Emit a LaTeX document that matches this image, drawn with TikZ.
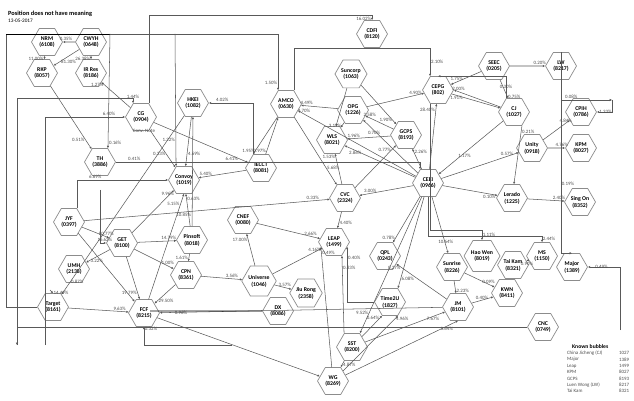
\documentclass[tikz,border=0pt]{standalone}
\usepackage{fontspec}
\setmainfont{Carlito}
\usepackage{tikz}
\usetikzlibrary{arrows.meta, positioning, shapes.geometric, calc}

\tikzset{
  hex/.style={draw=black!45, regular polygon, regular polygon sides=6,
    minimum size=0.62cm, inner sep=0pt, align=center,
    font=\fontsize{3.3}{3.9}\selectfont\bfseries},
  e/.style={draw=black!65, line width=0.3pt, -{Latex[length=1.3pt,width=1.3pt]}},
  lbl/.style={font=\fontsize{2.8}{3}\selectfont, inner sep=0.4pt, text=black!70},
}

\begin{document}
\begin{tikzpicture}[x=0.02cm, y=-0.02cm]
        \useasboundingbox (0,0) rectangle (634,401);
        % Titel
        \node[anchor=west, font=\fontsize{3.6}{4}\selectfont\bfseries] (title) at (2,14) {Position does not have meaning};
        \node[anchor=west, font=\fontsize{3}{3.5}\selectfont] (date) at (2,21) {13-05-2017};
        % Bubbles links
        \node[hex] (nrm) at (47,42) {NRM\\(6108)};
        \node[hex] (cwyh) at (91,42) {CWYH\\(0648)};
        \node[hex] (rkp) at (42,73) {RKP\\(8057)};
        \node[hex] (irres) at (91,73) {IR Res\\(8186)};
        \node[hex] (hkei) at (193,103) {HKEI\\(1082)};
        \node[hex] (cg) at (141,117) {CG\\(0904)};
        \node[hex] (th) at (100,162) {TH\\(3886)};
        \node[hex] (convoy) at (184,180) {Convoy\\(1019)};
        \node[hex] (jyf) at (69,222) {JYF\\(0397)};
        \node[hex] (get) at (122,243) {GET\\(8100)};
        \node[hex] (pinsoft) at (192,240) {Pinsoft\\(8018)};
        \node[hex] (umh) at (74,269) {UMH\\(2138)};
        \node[hex] (cpn) at (186,275) {CPN\\(8361)};
        \node[hex] (target) at (53,307) {Target\\(8161)};
        \node[hex] (fcf) at (144,313) {FCF\\(8215)};
        % Bubbles midden
        \node[hex] (cdfi) at (372,34) {CDFI\\(8120)};
        \node[hex] (suncorp) at (351,74) {Suncorp\\(1063)};
        \node[hex] (amco) at (286,104) {AMCO\\(0630)};
        \node[hex] (opg) at (353,110) {OPG\\(1226)};
        \node[hex] (wls) at (332,140) {WLS\\(8021)};
        \node[hex] (gcps) at (406,135) {GCPS\\(8193)};
        \node[hex] (iecct) at (261,168) {IECCT\\(8081)};
        \node[hex] (cvc) at (345,198) {CVC\\(2324)};
        \node[hex] (cnef) at (243,220) {CNEF\\(0080)};
        \node[hex] (leap) at (334,242) {LEAP\\(1499)};
        \node[hex] (qpl) at (385,256) {QPL\\(0243)};
        \node[hex] (universe) at (259,281) {Universe\\(1046)};
        \node[hex] (jiurong) at (306,293) {Jiu Rong\\(2358)};
        \node[hex] (dx) at (278,311) {DX\\(8086)};
        \node[hex] (timeu) at (390,302) {Time2U\\(1827)};
        \node[hex] (sst) at (352,347) {SST\\(8200)};
        \node[hex] (wg) at (333,381) {WG\\(8269)};
        % Bubbles rechts
        \node[hex] (cepg) at (438,90) {CEPG\\(802)};
        \node[hex] (seec) at (494,66) {SEEC\\(0205)};
        \node[hex] (lw) at (561,66) {LW\\(8217)};
        \node[hex] (cj) at (514,112) {CJ\\(1027)};
        \node[hex] (cpih) at (581,112) {CPIH\\(0786)};
        \node[hex] (unity) at (532,148) {Unity\\(0918)};
        \node[hex] (kpm) at (581,148) {KPM\\(8027)};
        \node[hex] (ceei) at (428,183) {CEEI\\(0966)};
        \node[hex] (lerado) at (512,198) {Lerado\\(1225)};
        \node[hex] (singon) at (580,202) {Sing On\\(8352)};
        \node[hex] (haowen) at (482,256) {Hao Wen\\(8019)};
        \node[hex] (ms) at (542,256) {MS\\(1150)};
        \node[hex] (taikam) at (513,265) {Tai Kam\\(8321)};
        \node[hex] (sunrise) at (452,267) {Sunrise\\(8226)};
        \node[hex] (major) at (572,267) {Major\\(1389)};
        \node[hex] (kwn) at (507,293) {KWN\\(8411)};
        \node[hex] (jm) at (458,307) {JM\\(8101)};
        \node[hex] (cnc) at (543,327) {CNC\\(0749)};
        % Notitie
        \node[lbl] (note) at (144,131) {Conv. Note};
        % Vrije eindpunten
        \coordinate (t1) at (110,34);
        \coordinate (t2) at (175,34);
        \coordinate (l1) at (17,345);
        \coordinate (l2) at (45,345);
        \coordinate (l3) at (100,190);
        \coordinate (l4) at (50,290);
        \coordinate (r1) at (620,330);
        \coordinate (r2) at (612,100);
        \coordinate (b1) at (232,345);
        \coordinate (d1) at (150,311);
        % Verbindingen links
        \draw[e] (cwyh) -- node[lbl,above,pos=.75]{0.35\%} (nrm);
        \draw[e] (nrm) -- node[lbl,left,pos=.75]{11.00\%} (rkp);
        \draw[e] (cwyh) -- node[lbl,right,pos=.75]{81.30\%} (rkp);
        \draw[e] (cwyh) -- node[lbl,left,pos=.75]{26.38\%} (irres);
        \draw[e] (rkp) -- node[lbl,left,pos=.85]{0.51\%} (th);
        \draw[e] (cg) -- node[lbl,left,pos=.9]{1.27\%} (irres);
        \draw[e] (cg.60) -- (cg.60 |- 0,15) -| node[lbl,left,pos=.9]{16.02\%} (cdfi.north);
        \draw[e] (target.west) -| (6,34) -| node[lbl,left,pos=.93]{1.50\%} (amco.120);
        \draw (6,34) -- (t1);
        \draw[e] (t1) -- node[lbl,right,pos=.95]{0.16\%} (th.60);
        \draw[e] (t2) -- node[lbl,left,pos=.8]{1.22\%} (convoy.120);
        \draw[e] (iecct.120) |- node[lbl,above,pos=.85]{4.02\%} (hkei.east);
        \draw[e] (l1) |- (cg.120 |- 0,98) -- node[lbl,above,pos=.2]{1.44\%} (cg.120);
        \draw[e] (l2) |- node[lbl,above,pos=.9]{6.40\%} (cg.west);
        \draw[e] (cg) -- node[lbl,left,pos=.9]{6.41\%} (iecct);
        \draw[e] (cg) -- node[lbl,left,pos=.65]{0.33\%} (convoy);
        \draw[e] (th.east) -| node[lbl,above,pos=.03]{0.41\%} (ceei.120);
        \draw[e] (jyf.60) |- node[lbl,above,pos=.6]{6.69\%} (convoy.west);
        \draw[e] (hkei) -- node[lbl,right,pos=.75]{4.69\%} (convoy);
        \draw[e] (hkei) -- node[lbl,right,pos=.93]{0.87\%} (target);
        \draw[e] (get) -- node[lbl,above,pos=.85]{9.96\%} (convoy);
        \draw[e] (fcf) -- node[lbl,left,pos=.9]{5.15\%} (convoy.south);
        \draw[e] (iecct) -- node[lbl,above,pos=.85]{5.40\%} (convoy);
        \draw[e] (pinsoft) -- node[lbl,right,pos=.85]{0.63\%} (convoy);
        \draw[e] (jyf) -- node[lbl,above,pos=.9]{80.77\%} (get);
        \draw[e] (l3) |- node[lbl,above,pos=.9]{16.62\%} (get.west);
        \draw[e] (get) -- node[lbl,above,pos=.8]{14.79\%} (pinsoft);
        \draw[e] (get) -- node[lbl,above,pos=.85]{1.00\%} (cpn);
        \draw[e] (get) -- node[lbl,left,pos=.85]{19.79\%} (fcf);
        \draw[e] (pinsoft) -- node[lbl,left,pos=.6]{1.61\%} (cpn);
        \draw[e] (cpn) -- node[lbl,right,pos=.85]{29.50\%} (fcf);
        \draw[e] (jyf) -- (fcf);
        \draw[e] (target) -- node[lbl,above,pos=.85]{9.63\%} (fcf);
        \draw[e] (get) -- node[lbl,right,pos=.85]{3.22\%} (umh);
        \draw[e] (l4) -- node[lbl,right,pos=.9]{14.49\%} (target.north);
        \draw[e] (jm) -- node[lbl,right,pos=.95]{0.96\%} (fcf);
        \draw[e] (b1) -| node[lbl,right,pos=.95]{0.32\%} (fcf.south);
        % Verbindingen midden
        \draw[e] (cpn) -- node[lbl,above,pos=.75]{3.56\%} (universe);
        \draw[e] (pinsoft) -- node[lbl,left,pos=.1]{10.85\%} (hkei);
        \draw[e] (universe) -- node[lbl,left,pos=.8]{17.00\%} (cnef);
        \draw[e] (universe) -- node[lbl,above,pos=.85]{4.16\%} (leap);
        \draw[e] (universe) -- node[lbl,above,pos=.6]{3.57\%} (jiurong);
        \draw[e] (cnef) -- node[lbl,above,pos=.85]{2.66\%} (leap);
        \draw[e] (jyf) -- node[lbl,above,pos=.93]{0.33\%} (cvc);
        \draw[e] (amco) -- node[lbl,right,pos=.75]{5.68\%} (cvc);
        \draw[e] (ceei) -- node[lbl,above,pos=.8]{3.00\%} (cvc);
        \draw[e] (cvc) -- node[lbl,right,pos=.7]{4.40\%} (leap);
        \draw[e] (wg) -- node[lbl,right,pos=.95]{0.49\%} (leap.200);
        \draw[e] (sst.120) -- node[lbl,right,pos=.85]{0.83\%} (leap.300);
        \draw[e] (timeu.west) -| node[lbl,right,pos=.9]{0.40\%} (leap.340);
        \draw[e] (ceei) -- node[lbl,left,pos=.85]{9.52\%} (sst.60);
        \draw[e] (sst) -- node[lbl,right,pos=.6]{4.87\%} (wg);
        \draw[e] (sst) -- node[lbl,left,pos=.9]{0.64\%} (timeu.240);
        \draw[e] (wg) -- node[lbl,right,pos=.95]{4.96\%} (timeu.300);
        \draw[e] (ceei) -- node[lbl,right,pos=.9]{6.08\%} (timeu.60);
        \draw[e] (ceei) -- node[lbl,left,pos=.9]{0.78\%} (qpl);
        \draw[e] (jm) -- node[lbl,left,pos=.9]{0.27\%} (qpl);
        \draw[e] (fcf) -- (wg);
        \draw (dx) -- (d1);
        \draw[e] (amco) -- node[lbl,left,pos=.9]{1.95\%} (iecct.120);
        \draw[e] (iecct) -- node[lbl,left,pos=.1]{0.97\%} (amco.240);
        \draw[e] (ceei) -- node[lbl,above,pos=.95]{4.70\%} (amco);
        \draw[e] (opg) -- node[lbl,above,pos=.85]{4.49\%} (amco);
        \draw[e] (suncorp) -- (wls);
        \draw[e] (opg) -- node[lbl,left,pos=.6]{3.19\%} (wls);
        \draw[e] (cvc) -- node[lbl,left,pos=.9]{1.53\%} (wls);
        \draw[e] (gcps) -- node[lbl,above,pos=.85]{1.96\%} (wls);
        \draw[e] (ceei) -- node[lbl,below,pos=.85]{2.86\%} (wls);
        \draw[e] (gcps) -- node[lbl,above,pos=.85]{2.58\%} (opg);
        \draw[e] (ceei) -- node[lbl,below,pos=.8]{0.70\%} (opg);
        \draw[e] (suncorp) -- node[lbl,left,pos=.9]{1.90\%} (gcps);
        \draw[e] (cvc) -- node[lbl,left,pos=.9]{0.77\%} (gcps);
        \draw[e] (ceei) -- node[lbl,right,pos=.85]{2.26\%} (gcps);
        \draw[e] (opg) -- node[lbl,above,pos=.85]{4.90\%} (cepg);
        \draw[e] (ceei) -- node[lbl,left,pos=.9]{28.40\%} (cepg);
        % Verbindingen rechts
        \draw[e] (seec) -- node[lbl,above,pos=.8]{1.75\%} (cepg);
        \draw[e] (amco.60) |- (cepg.120 |- 0,48) -- node[lbl,right,pos=.5]{2.10\%} (cepg.120);
        \draw[e] (seec) -- node[lbl,right,pos=.9]{0.75\%} (cj);
        \draw[e] (cj) -- node[lbl,above,pos=.9]{2.00\%} (cepg.east);
        \draw[e] (cepg) -- node[lbl,below,pos=.1]{1.91\%} (cj);
        \draw[e] (seec) -- node[lbl,above,pos=.85]{0.20\%} (lw);
        \draw[e] (lw.north) |- node[lbl,above,pos=.6]{0.08\%} (r2);
        \draw[e] (cj.120) |- node[lbl,above,pos=.2]{0.30\%} (cepg.north);
        \draw[e] (cj) -- node[lbl,below,pos=.6]{1.17\%} (ceei);
        \draw[e] (unity) -- node[lbl,above,pos=.85]{4.84\%} (cpih);
        \draw[e] (unity) -- node[lbl,above,pos=.8]{4.76\%} (kpm);
        \draw[e] (r2) |- node[lbl,right,pos=.95]{1.33\%} (cpih.east);
        \draw[e] (ceei) -- node[lbl,above,pos=.85]{0.57\%} (unity);
        \draw[e] (ceei) -- node[lbl,below,pos=.85]{0.10\%} (lerado);
        \draw[e] (cj.300) -- node[lbl,right,pos=.1]{0.21\%} (lerado);
        \draw[e] (lerado) -- node[lbl,above,pos=.85]{2.40\%} (singon);
        \draw[e] (ceei) -- node[lbl,above,pos=.85]{10.64\%} (sunrise);
        \draw[e] (cepg.240) |- (haowen.north |- 0,230) -- node[lbl,right,pos=.5]{1.11\%} (haowen.north);
        \draw[e] (ceei.270) |- (ms.north |- 0,236) -- node[lbl,right,pos=.4]{2.44\%} (ms.north);
        \draw[e] (ms) -- node[lbl,below,pos=.8]{0.90\%} (taikam);
        \draw[e] (sunrise) -- node[lbl,above,pos=.8]{0.09\%} (kwn);
        \draw[e] (jm) -- node[lbl,left,pos=.8]{0.40\%} (kwn);
        \draw[e] (sunrise) -- node[lbl,right,pos=.8]{2.23\%} (jm);
        \draw[e] (sst) -- node[lbl,below,pos=.85]{7.67\%} (jm);
        \draw[e] (wg) -- node[lbl,below,pos=.9]{3.64\%} (jm.south);
        \draw[e] (lw) |- node[lbl,right,pos=.3]{0.19\%} (major.north);
        \draw[e] (r1) |- node[lbl,right,pos=.9]{0.49\%} (major.east);
        \draw[e] (cnc.west) -| (l1);
        % Legenda
        \node[anchor=west, font=\fontsize{3.2}{3.6}\selectfont\bfseries] (lgd) at (566,347) {Known bubbles};
        \foreach \nm/\cd [count=\i] in {China Jicheng (CJ)/1027, Major/1389, Leap/1499, KPM/8027, GCPS/8193, Luen Wong (LW)/8217, Tai Kam/8321}
          \node[anchor=west, lbl] (lg\i) at (566,347+6.3*\i) {\nm};
        \foreach \nm/\cd [count=\i] in {China Jicheng (CJ)/1027, Major/1389, Leap/1499, KPM/8027, GCPS/8193, Luen Wong (LW)/8217, Tai Kam/8321}
          \node[anchor=west, lbl] (lc\i) at (618,347+6.3*\i) {\cd};
      \end{tikzpicture}
\end{document}
